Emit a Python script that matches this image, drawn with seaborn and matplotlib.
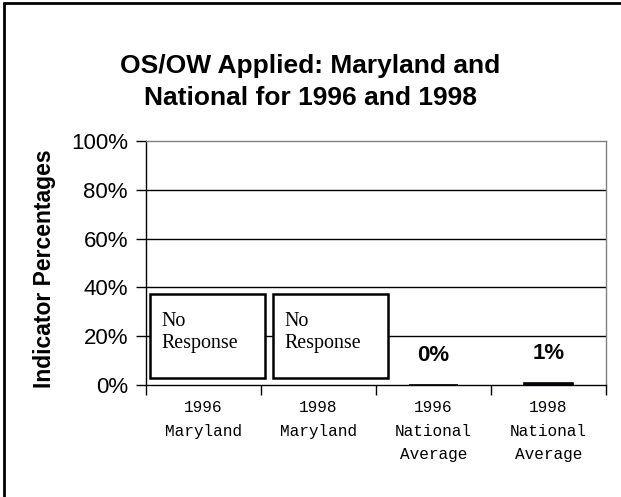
import numpy as np
import pandas as pd
import matplotlib
matplotlib.use("Agg")
import matplotlib.pyplot as plt
from matplotlib.patches import Rectangle
from matplotlib.lines import Line2D
import seaborn as sns

# data
categories = ["1996\nMaryland", "1998\nMaryland",
              "1996\nNational\nAverage", "1998\nNational\nAverage"]
values = [np.nan, np.nan, 0, 1]
bar_labels = ["No\nResponse", "No\nResponse", "0%", "1%"]
yticks = [0, 20, 40, 60, 80, 100]

title = "OS/OW Applied: Maryland and\nNational for 1996 and 1998"
ylabel = "Indicator Percentages"

df = pd.DataFrame({"category": categories, "value": values})

sns.set_theme(style="white")
plt.rcParams['font.family'] = ['Liberation Sans', 'DejaVu Sans']
plt.rcParams['text.color'] = 'black'
plt.rcParams['axes.labelcolor'] = 'black'
plt.rcParams['xtick.color'] = 'black'
plt.rcParams['ytick.color'] = 'black'

fig = plt.figure(figsize=(6.21, 4.97), dpi=100)
ax = fig.add_axes([0.2351, 0.2254, 0.7407, 0.4909])

sns.barplot(data=df, x="category", y="value", order=categories,
            color="#23234f", edgecolor="black", linewidth=1.2,
            width=0.43, saturation=1, ax=ax)

ax.set_ylim(0, 100)
ax.set_xlim(-0.5, len(categories) - 0.5)
ax.set_yticks(yticks)
ax.set_yticklabels([f"{v}%" for v in yticks], fontsize=16)
ax.tick_params(axis="y", direction="out", length=7, width=1, color="black",
               left=True, pad=6)

# category labels, with tick marks between categories
ax.set_xticks(range(len(categories)))
ax.set_xticklabels(categories, fontfamily="Liberation Mono", fontsize=11.6,
                   linespacing=1.7, va="top")
ax.tick_params(axis="x", which="major", length=0, pad=11)
ax.set_xticks(np.arange(-0.5, len(categories)), minor=True)
ax.tick_params(axis="x", which="minor", direction="out", length=7, width=1,
               color="black", bottom=True)

ax.set_xlabel("")
ax.set_ylabel(ylabel, fontsize=16.5, fontweight="bold")
ax.yaxis.set_label_coords(-0.195, 0.475)

for y in yticks[1:-1]:
    ax.axhline(y, color="black", lw=1, zorder=0)

for side in ["left", "bottom"]:
    ax.spines[side].set_color("black")
    ax.spines[side].set_linewidth(1)
for side in ["top", "right"]:
    ax.spines[side].set_color("#808080")
    ax.spines[side].set_linewidth(1)

# "No Response" boxes sit slightly differently in each slot
box_left = [-0.465, -0.395]
for i, (v, lab) in enumerate(zip(values, bar_labels)):
    if np.isnan(v):
        x0 = i + box_left[i]
        ax.add_patch(Rectangle((x0, 2.8), 1.0, 34.5, fill=True,
                               facecolor="white", edgecolor="black", lw=1.8,
                               zorder=3))
        ax.text(x0 + 0.1, 21.5, lab, fontfamily="Liberation Serif",
                fontsize=14.4, ha="left", va="center", linespacing=1.25,
                zorder=4)
    else:
        ax.annotate(lab, (i, v), xytext=(0, 21), textcoords="offset points",
                    ha="center", va="center", fontsize=16,
                    fontweight="bold")

fig.text(0.5, 0.835, title, ha="center", va="center", fontsize=19,
         fontweight="bold", linespacing=1.4)

# outer frame (top and left edges visible in the reference)
fig.add_artist(Line2D([0.0065, 1.0], [0.9940, 0.9940], color="black", lw=2,
                      transform=fig.transFigure))
fig.add_artist(Line2D([0.0065, 0.0065], [0.0, 0.9940], color="black", lw=2,
                      transform=fig.transFigure))

fig.savefig("out.png", dpi=100)
